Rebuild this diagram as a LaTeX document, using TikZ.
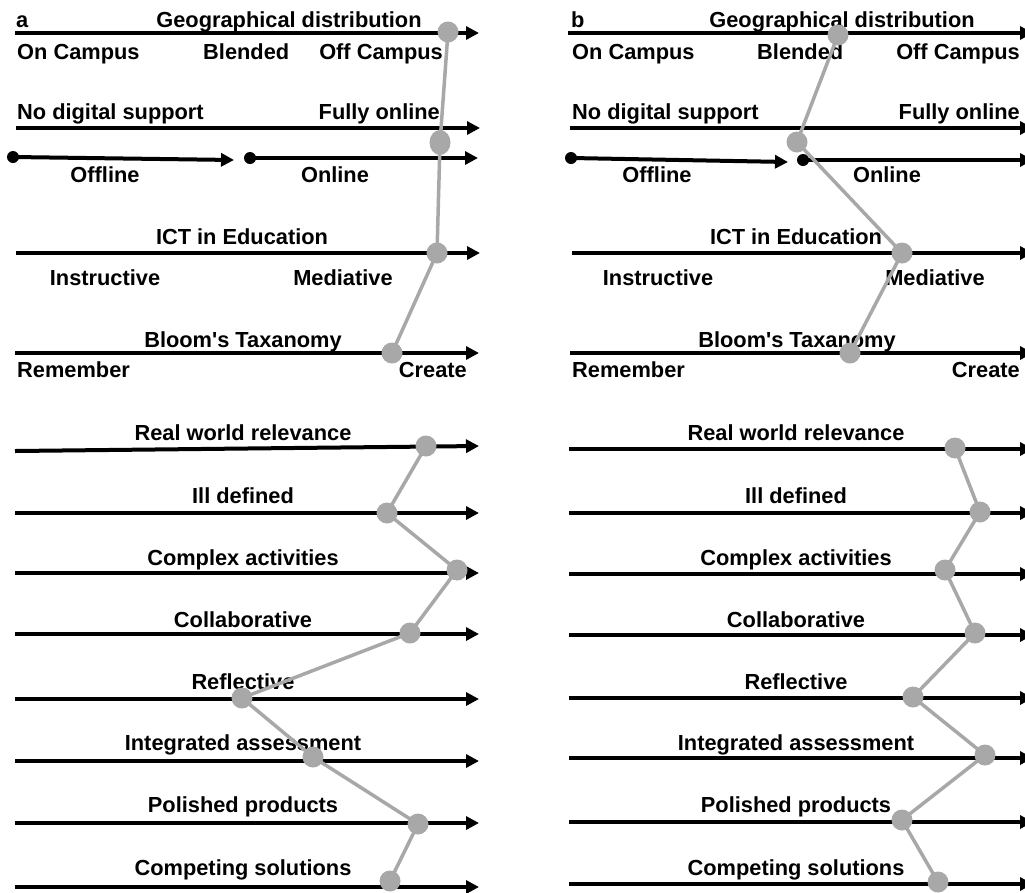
\documentclass[tikz,border=0pt]{standalone}
\usepackage{fontspec}
\setmainfont{Liberation Sans}[Ligatures=TeXOff]
\usetikzlibrary{arrows.meta,shapes.geometric}
\definecolor{markgray}{HTML}{A8A8A8}
\begin{document}
\begin{tikzpicture}[x=1pt,y=-1pt,
  axis/.style={line width=4pt,-{Triangle[length=13pt,width=13pt]}},
  lab/.style={inner sep=0pt,font=\fontsize{21.8}{26}\selectfont\bfseries},
  labc/.style={lab,anchor=base},
  labl/.style={lab,anchor=base west},
  labr/.style={lab,anchor=base east},
  startdot/.style={circle,fill=black,inner sep=0pt,minimum size=12pt},
  marker/.style={circle,fill=markgray,inner sep=0pt,minimum size=21pt},
  trace/.style={draw=markgray,line width=3.5pt,line join=round}
]
\clip (0,0) rectangle (1025,892);

% ---------------- panel a: axes ----------------
\coordinate (ga0) at (15,33);   \coordinate (ga1) at (479,33);
\coordinate (da0) at (16,128);  \coordinate (da1) at (480,128);
\coordinate (offa1) at (234,160);
\coordinate (ona1) at (478,158);
\coordinate (ia0) at (16,253);  \coordinate (ia1) at (480,253);
\coordinate (ba0) at (15,353);  \coordinate (ba1) at (479,353);
\node[startdot] (offa0) at (13,157) {};
\node[startdot] (ona0) at (250,158) {};
\draw[axis] (ga0) -- (ga1);
\draw[axis] (da0) -- (da1);
\draw[axis] (offa0.center) -- (offa1);
\draw[axis] (ona0.center) -- (ona1);
\draw[axis] (ia0) -- (ia1);
\draw[axis] (ba0) -- (ba1);
\coordinate (ra0) at (15,451); \coordinate (ra1) at (479,446);
\draw[axis] (ra0) -- (ra1);
\foreach \k/\y in {2/513,3/573,4/634,5/699,6/761,7/823,8/887}{
  \coordinate (xa\k0) at (15,\y);
  \coordinate (xa\k1) at (479,\y);
  \draw[axis] (xa\k0) -- (xa\k1);
}

% ---------------- panel a: labels ----------------
\node[labl] (tagA) at (16,27) {a};
\node[labc] (geoA) at (289,27) {Geographical distribution};
\node[labl] (onA) at (17,59) {On Campus};
\node[labl] (blA) at (203,59) {Blended};
\node[labr] (offcA) at (443,59) {Off Campus};
\node[labl] (ndA) at (17,119) {No digital support};
\node[labr] (foA) at (440,119) {Fully online};
\node[labc] (oflA) at (105,182) {Offline};
\node[labc] (onlA) at (335,182) {Online};
\node[labc] (ictA) at (242,244) {ICT in Education};
\node[labc] (insA) at (105,285) {Instructive};
\node[labc] (medA) at (343,285) {Mediative};
\node[labc] (blmA) at (243,347) {Bloom's Taxanomy};
\node[labl] (remA) at (17,377) {Remember};
\node[labr] (creA) at (467,377) {Create};
\node[labc] (l1A) at (243,440) {Real world relevance};
\node[labc] (l2A) at (243,503) {Ill defined};
\node[labc] (l3A) at (243,565) {Complex activities};
\node[labc] (l4A) at (243,627) {Collaborative};
\node[labc] (l5A) at (243,689) {Reflective};
\node[labc] (l6A) at (243,750) {Integrated assessment};
\node[labc] (l7A) at (243,812) {Polished products};
\node[labc] (l8A) at (243,875) {Competing solutions};

% ---------------- panel b: axes ----------------
\coordinate (gb0) at (568,33);  \coordinate (gb1) at (1033,33);
\coordinate (db0) at (570,128); \coordinate (db1) at (1033,128);
\coordinate (offb1) at (788,162);
\coordinate (onb1) at (1033,160);
\coordinate (ib0) at (572,253); \coordinate (ib1) at (1033,253);
\coordinate (bb0) at (570,353); \coordinate (bb1) at (1033,353);
\node[startdot] (offb0) at (571,158) {};
\node[startdot] (onb0) at (803,160) {};
\draw[axis] (gb0) -- (gb1);
\draw[axis] (db0) -- (db1);
\draw[axis] (offb0.center) -- (offb1);
\draw[axis] (onb0.center) -- (onb1);
\draw[axis] (ib0) -- (ib1);
\draw[axis] (bb0) -- (bb1);
\foreach \k/\y in {1/449,2/513,3/574,4/635,5/698,6/758,7/822,8/884}{
  \coordinate (xb\k0) at (569,\y);
  \coordinate (xb\k1) at (1033,\y);
  \draw[axis] (xb\k0) -- (xb\k1);
}

% ---------------- panel b: labels ----------------
\node[labl] (tagB) at (571,27) {b};
\node[labc] (geoB) at (842,27) {Geographical distribution};
\node[labl] (onB) at (572,59) {On Campus};
\node[labl] (blB) at (757,59) {Blended};
\node[labr] (offcB) at (1020,59) {Off Campus};
\node[labl] (ndB) at (572,119) {No digital support};
\node[labr] (foB) at (1020,119) {Fully online};
\node[labc] (oflB) at (657,182) {Offline};
\node[labc] (onlB) at (887,182) {Online};
\node[labc] (ictB) at (796,244) {ICT in Education};
\node[labc] (insB) at (658,285) {Instructive};
\node[labc] (medB) at (935,285) {Mediative};
\node[labc] (blmB) at (797,347) {Bloom's Taxanomy};
\node[labl] (remB) at (572,377) {Remember};
\node[labr] (creB) at (1020,377) {Create};
\node[labc] (l1B) at (796,440) {Real world relevance};
\node[labc] (l2B) at (796,503) {Ill defined};
\node[labc] (l3B) at (796,565) {Complex activities};
\node[labc] (l4B) at (796,627) {Collaborative};
\node[labc] (l5B) at (796,689) {Reflective};
\node[labc] (l6B) at (796,750) {Integrated assessment};
\node[labc] (l7B) at (796,812) {Polished products};
\node[labc] (l8B) at (796,875) {Competing solutions};

% ---------------- profile markers ----------------
\node[marker] (ma1) at (448,32) {};
\node[ellipse,fill=markgray,inner sep=0pt,minimum width=21pt,minimum height=25pt] (ma2) at (440,142.5) {};
\node[marker] (ma3) at (437,253) {};
\node[marker] (ma4) at (392,353) {};
\node[marker] (mA1) at (426,446) {};
\node[marker] (mA2) at (387,513) {};
\node[marker] (mA3) at (457,570) {};
\node[marker] (mA4) at (410,633) {};
\node[marker] (mA5) at (242,698) {};
\node[marker] (mA6) at (313,757) {};
\node[marker] (mA7) at (418,824) {};
\node[marker] (mA8) at (390,881) {};

\node[marker] (mb1) at (838,35) {};
\node[marker] (mb2) at (797,142) {};
\node[marker] (mb3) at (902,253) {};
\node[marker] (mb4) at (850,353) {};
\node[marker] (mB1) at (955,448) {};
\node[marker] (mB2) at (980,512) {};
\node[marker] (mB3) at (945,570) {};
\node[marker] (mB4) at (975,633) {};
\node[marker] (mB5) at (913,697) {};
\node[marker] (mB6) at (985,755) {};
\node[marker] (mB7) at (902,820) {};
\node[marker] (mB8) at (938,882) {};

\draw[trace] (ma1.center) -- (ma2.center) -- (ma3.center) -- (ma4.center);
\draw[trace] (mA1.center) -- (mA2.center) -- (mA3.center) -- (mA4.center)
  -- (mA5.center) -- (mA6.center) -- (mA7.center) -- (mA8.center);
\draw[trace] (mb1.center) -- (mb2.center) -- (mb3.center) -- (mb4.center);
\draw[trace] (mB1.center) -- (mB2.center) -- (mB3.center) -- (mB4.center)
  -- (mB5.center) -- (mB6.center) -- (mB7.center) -- (mB8.center);
\end{tikzpicture}
\end{document}
